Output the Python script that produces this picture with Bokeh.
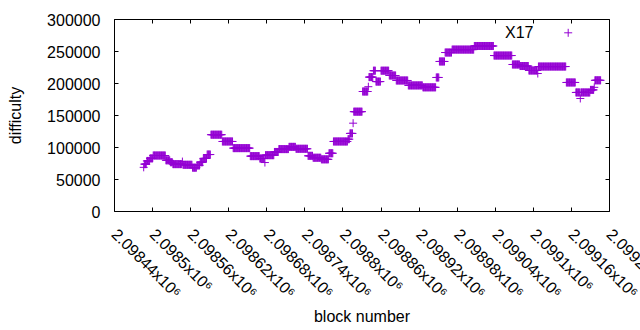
import math
import numpy as np
from bokeh.plotting import figure
from bokeh.models import Range1d, FixedTicker, LinearAxis, Label, CustomJSTickFormatter
from bokeh.embed import file_html
from bokeh.resources import INLINE

# ---- data: runs of blocks sharing the same difficulty ----
run_first_block = [2098486, 2098487, 2098491, 2098496, 2098501, 2098521, 2098528, 2098532,
                   2098547, 2098548, 2098563, 2098570, 2098575, 2098580, 2098586, 2098592,
                   2098610, 2098627, 2098654, 2098669, 2098677, 2098678, 2098692, 2098699,
                   2098715, 2098726, 2098745, 2098753, 2098766, 2098778, 2098785, 2098808,
                   2098811, 2098816, 2098817, 2098831, 2098840, 2098841, 2098848, 2098852,
                   2098860, 2098873, 2098884, 2098903, 2098926, 2098947, 2098952, 2098961,
                   2098972, 2099007, 2099038, 2099067, 2099079, 2099093, 2099107, 2099108,
                   2099152, 2099167, 2099174, 2099175, 2099190, 2099196, 2099197]
run_last_block = [2098486, 2098490, 2098495, 2098500, 2098520, 2098527, 2098531, 2098546,
                  2098547, 2098562, 2098569, 2098574, 2098579, 2098585, 2098591, 2098609,
                  2098626, 2098653, 2098668, 2098676, 2098677, 2098691, 2098698, 2098714,
                  2098725, 2098744, 2098752, 2098765, 2098777, 2098784, 2098807, 2098810,
                  2098815, 2098816, 2098830, 2098839, 2098840, 2098847, 2098851, 2098859,
                  2098872, 2098883, 2098902, 2098925, 2098946, 2098951, 2098960, 2098971,
                  2099006, 2099037, 2099066, 2099078, 2099092, 2099106, 2099107, 2099151,
                  2099166, 2099173, 2099174, 2099189, 2099195, 2099196, 2099206]
run_difficulty = [69000, 74000, 79000, 83000, 87500, 80000, 77000, 74000,
                  78000, 73000, 68500, 72000, 77000, 83000, 89000, 120000,
                  109400, 99000, 86500, 82800, 76500, 88000, 93000, 97500,
                  101000, 98000, 87000, 84000, 81500, 91000, 109400, 113000,
                  122000, 138000, 156000, 187500, 195000, 210000, 220000, 203000,
                  220000, 212500, 204700, 197000, 194000, 209400, 234400, 248400,
                  253000, 258600, 243700, 229700, 227300, 220300, 215600, 226500,
                  201600, 186000, 176600, 186000, 190000, 194000, 205000]

series_name = "X17"
x_ticks = [2098440, 2098500, 2098560, 2098620, 2098680, 2098740, 2098800,
           2098860, 2098920, 2098980, 2099040, 2099100, 2099160, 2099220]
x_tick_labels = ["2.09844x10\u2076", "2.0985x10\u2076", "2.09856x10\u2076", "2.09862x10\u2076",
                 "2.09868x10\u2076", "2.09874x10\u2076", "2.0988x10\u2076", "2.09886x10\u2076",
                 "2.09892x10\u2076", "2.09898x10\u2076", "2.09904x10\u2076", "2.0991x10\u2076",
                 "2.09916x10\u2076", "2.0992x10\u2076"]
y_ticks = [0, 50000, 100000, 150000, 200000, 250000, 300000]
y_tick_labels = ["0", "50000", "100000", "150000", "200000", "250000", "300000"]

block = np.concatenate([np.arange(a, b + 1) for a, b in zip(run_first_block, run_last_block)])
difficulty = np.concatenate([np.full(b - a + 1, d) for a, b, d in
                             zip(run_first_block, run_last_block, run_difficulty)])

# ---- layout ----
X0, X1 = x_ticks[0], x_ticks[-1]
Y0, Y1 = y_ticks[0], y_ticks[-1]
W, H = 700, 330          # wider than the window so the last tick label runs off the edge
FL, FT, FW, FH = 114, 19, 495, 192      # frame position in pixels
UX = (X1 - X0) / FW
UY = (Y1 - Y0) / FH

def dx(px):
    return X0 + (px - FL) * UX

def dy(py):
    return Y0 + (FT + FH - py) * UY

FONT = "Liberation Sans"
COLOR = "#9400D3"

p = figure(frame_width=FW, frame_height=FH,
           x_range=Range1d(X0, X1), y_range=Range1d(Y0, Y1),
           output_backend="svg", toolbar_location=None,
           x_axis_location=None, y_axis_location=None,
           min_border_left=FL, min_border_right=W - FL - FW,
           min_border_top=FT, min_border_bottom=H - FT - FH,
           background_fill_color="white", border_fill_color="white",
           outline_line_color=None)
p.grid.visible = False


def make_axis(ticks):
    return LinearAxis(ticker=FixedTicker(ticks=ticks),
                      major_tick_in=4, major_tick_out=0,
                      minor_tick_line_color=None,
                      axis_line_color="black", major_tick_line_color="black",
                      axis_line_width=1, major_tick_line_width=1)


def style_labels(ax, ticks, labels, standoff):
    ax.major_label_overrides = {t: s for t, s in zip(ticks, labels)}
    ax.major_label_text_font = FONT
    ax.major_label_text_font_size = "16px"
    ax.major_label_text_color = "black"
    ax.major_label_standoff = standoff
    ax.axis_label_text_font = FONT
    ax.axis_label_text_font_size = "16px"
    ax.axis_label_text_font_style = "normal"
    ax.axis_label_text_color = "black"


def hide_labels(ax):
    ax.formatter = CustomJSTickFormatter(code="return ''")
    ax.major_label_text_font_size = "0px"
    ax.major_label_standoff = 0


ax_b = make_axis(x_ticks)
style_labels(ax_b, x_ticks, x_tick_labels, 20)
ax_b.major_label_orientation = -math.pi / 4
ax_b.major_label_text_baseline = "alphabetic"
ax_b.axis_label = "block number"
ax_b.axis_label_standoff = -2

ax_l = make_axis(y_ticks)
style_labels(ax_l, y_ticks, y_tick_labels, 14)
ax_l.axis_label = "difficulty"
ax_l.axis_label_standoff = 20

ax_t = make_axis(x_ticks)
hide_labels(ax_t)
ax_r = make_axis(y_ticks)
hide_labels(ax_r)

p.add_layout(ax_b, "below")
p.add_layout(ax_t, "above")
p.add_layout(ax_l, "left")
p.add_layout(ax_r, "right")

p.scatter(block, difficulty, marker="cross", size=8, line_color=COLOR, line_width=1)

# legend (gnuplot style: text then sample)
p.add_layout(Label(x=dx(533), y=dy(31.5), text=series_name, text_align="right",
                   text_baseline="middle", text_font=FONT, text_font_size="16px",
                   text_color="black"))
p.scatter([dx(567.7)], [dy(32.3)], marker="cross", size=8, line_color=COLOR, line_width=1)

open("out.html", "w").write(file_html(p, INLINE))
